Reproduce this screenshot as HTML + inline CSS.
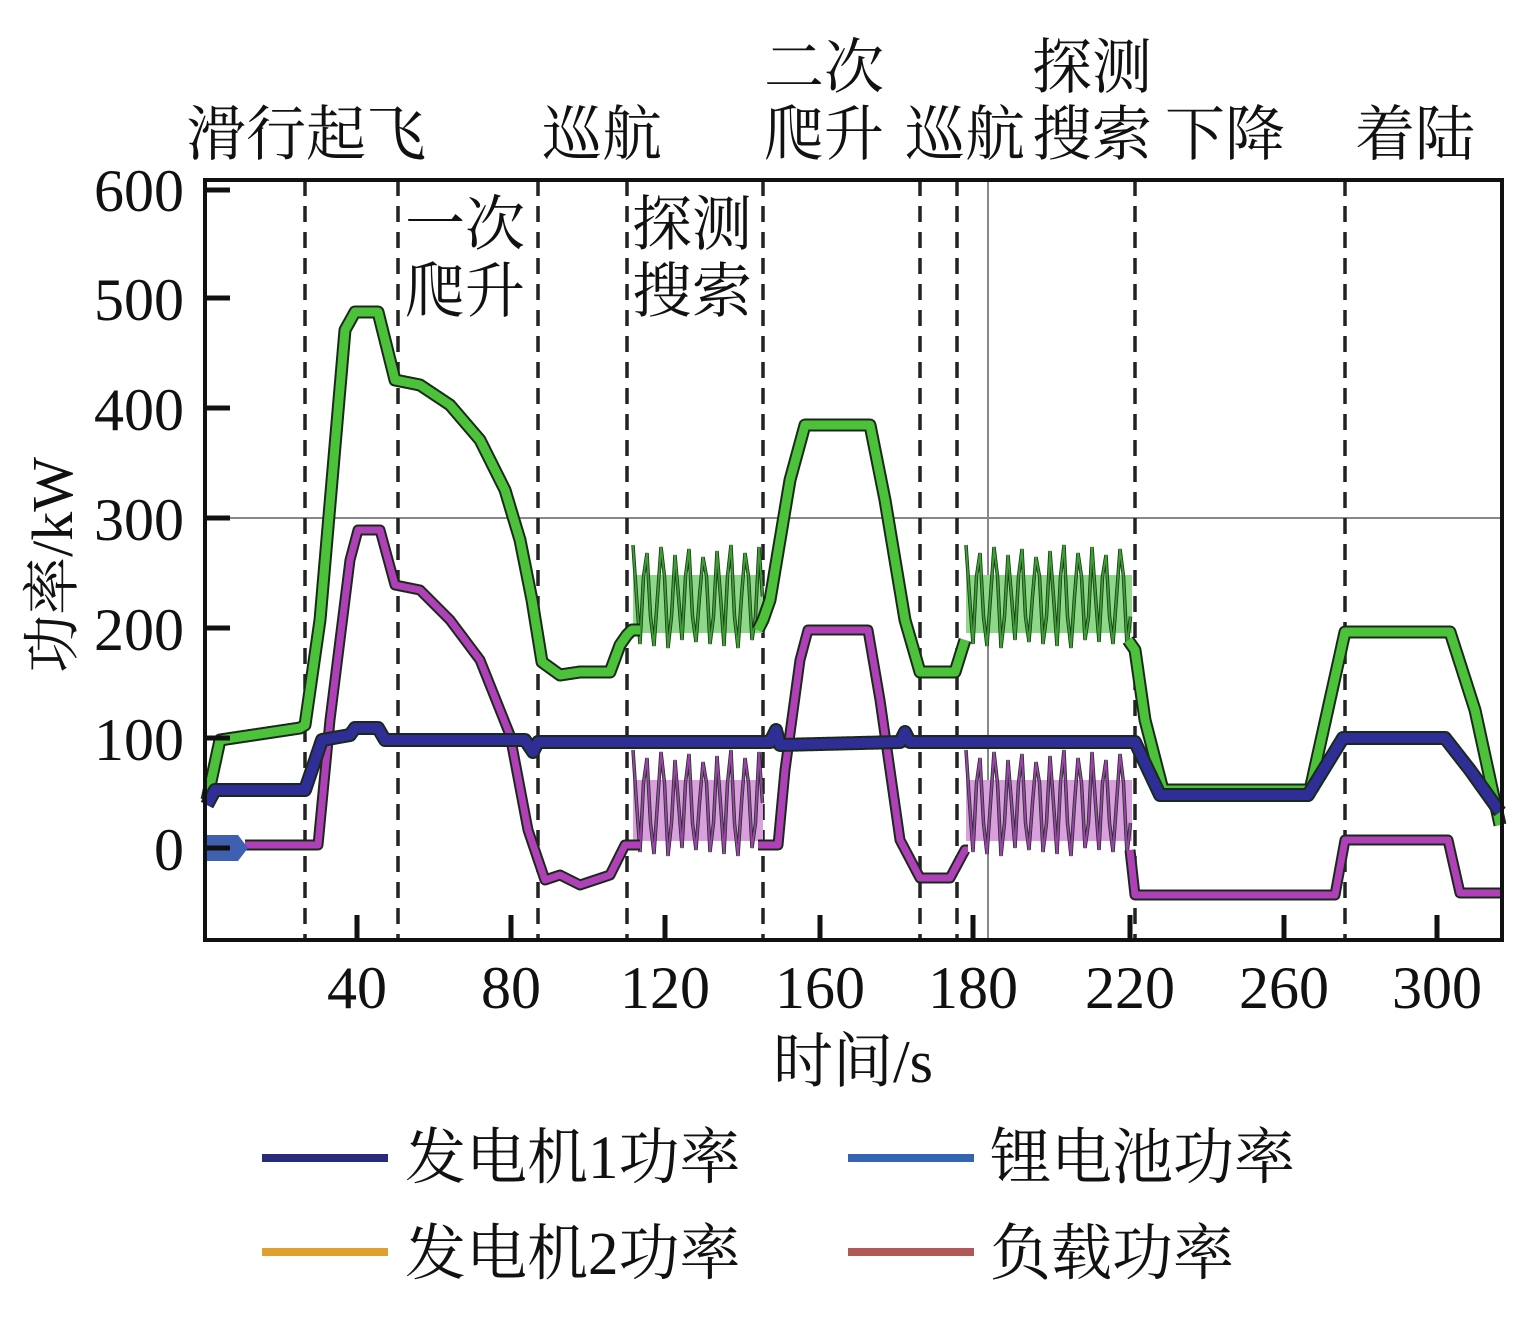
<!DOCTYPE html>
<html><head><meta charset="utf-8"><style>
html,body{margin:0;padding:0;background:#fff;}
svg{display:block;}
text{font-family:"Liberation Serif","Noto Serif CJK SC","Noto Sans CJK SC",serif;fill:#111;}
</style></head><body>
<svg id="s" width="1524" height="1322" viewBox="0 0 1524 1322" xmlns="http://www.w3.org/2000/svg">
<g font-size="60">
<text x="186" y="155">滑行起飞</text>
<text x="542" y="155">巡航</text>
<text x="764" y="88">二次</text>
<text x="764" y="155">爬升</text>
<text x="905" y="155">巡航</text>
<text x="1032" y="88">探测</text>
<text x="1032" y="155">搜索</text>
<text x="1165" y="155">下降</text>
<text x="1355" y="155">着陆</text>
<text x="405" y="245">一次</text>
<text x="405" y="312">爬升</text>
<text x="632" y="245">探测</text>
<text x="632" y="312">搜索</text>
</g>
<g stroke="#888" stroke-width="2">
<line x1="205" y1="518" x2="1502" y2="518"/>
<line x1="988" y1="180" x2="988" y2="940"/>
</g>
<g stroke="#222" stroke-width="3.5" stroke-dasharray="16,10">
<line x1="305" y1="180" x2="305" y2="940"/><line x1="398" y1="180" x2="398" y2="940"/>
<line x1="538" y1="180" x2="538" y2="940"/><line x1="627" y1="180" x2="627" y2="940"/>
<line x1="763" y1="180" x2="763" y2="940"/><line x1="920" y1="180" x2="920" y2="940"/>
<line x1="957" y1="180" x2="957" y2="940"/><line x1="1135" y1="180" x2="1135" y2="940"/>
<line x1="1345" y1="180" x2="1345" y2="940"/>
</g>
<g id="series"></g>
<polygon points="207,835 238,835 248,848 238,861 207,861" fill="#3f5fb0"/>
<rect x="205" y="180" width="1297" height="760" fill="none" stroke="#111" stroke-width="4"/>
<g stroke="#111" stroke-width="5">
<line x1="205" y1="190" x2="230" y2="190"/><line x1="205" y1="298" x2="230" y2="298"/>
<line x1="205" y1="408" x2="230" y2="408"/><line x1="205" y1="518" x2="230" y2="518"/>
<line x1="205" y1="628" x2="230" y2="628"/><line x1="205" y1="738" x2="230" y2="738"/>
<line x1="205" y1="848" x2="230" y2="848"/>
<line x1="357" y1="940" x2="357" y2="915"/><line x1="511" y1="940" x2="511" y2="915"/>
<line x1="665" y1="940" x2="665" y2="915"/><line x1="820" y1="940" x2="820" y2="915"/>
<line x1="973" y1="940" x2="973" y2="915"/><line x1="1130" y1="940" x2="1130" y2="915"/>
<line x1="1284" y1="940" x2="1284" y2="915"/><line x1="1437" y1="940" x2="1437" y2="915"/>
</g>
<g font-size="60" text-anchor="end">
<text x="184" y="211">600</text><text x="184" y="320">500</text><text x="184" y="430">400</text>
<text x="184" y="540">300</text><text x="184" y="650">200</text><text x="184" y="760">100</text>
<text x="184" y="870">0</text>
</g>
<g font-size="60" text-anchor="middle">
<text x="357" y="1008">40</text><text x="511" y="1008">80</text><text x="665" y="1008">120</text>
<text x="820" y="1008">160</text><text x="973" y="1008">180</text><text x="1130" y="1008">220</text>
<text x="1284" y="1008">260</text><text x="1437" y="1008">300</text>
<text x="853" y="1082">时间/s</text>
</g>
<text font-size="58" text-anchor="middle" transform="translate(72,565) rotate(-90)">功率/kW</text>
<g stroke-width="8">
<line x1="262" y1="1158" x2="388" y2="1158" stroke="#2a2a7a"/>
<line x1="848" y1="1158" x2="974" y2="1158" stroke="#3565b0"/>
<line x1="262" y1="1252" x2="388" y2="1252" stroke="#e0a030"/>
<line x1="848" y1="1252" x2="974" y2="1252" stroke="#b05858"/>
</g>
<g font-size="61">
<text x="405" y="1178">发电机1功率</text>
<text x="990" y="1178">锂电池功率</text>
<text x="405" y="1274">发电机2功率</text>
<text x="990" y="1274">负载功率</text>
</g>
</svg>
<script>
function interp(pts,x){for(let i=0;i<pts.length-1;i++){if(x>=pts[i][0]&&x<=pts[i+1][0]){const t=(x-pts[i][0])/((pts[i+1][0]-pts[i][0])||1);return pts[i][1]+t*(pts[i+1][1]-pts[i][1]);}}return pts[pts.length-1][1];}
function build(pts){let d=[];for(let x=pts[0][0];x<=pts[pts.length-1][0];x+=1){d.push(x+","+interp(pts,x).toFixed(1));}return d.join(" ");}
const g=document.getElementById("series");
function add(pts,col,w){const p=build(pts);g.insertAdjacentHTML("beforeend",`<polyline points="${p}" fill="none" stroke="#1a2a1a" stroke-width="${w+4}" stroke-linejoin="round"/><polyline points="${p}" fill="none" stroke="${col}" stroke-width="${w}" stroke-linejoin="round"/>`);}
function osc(x0,x1,top,bot,light,col){
  g.insertAdjacentHTML("beforeend",`<rect x="${x0}" y="${top+30}" width="${x1-x0}" height="${bot-top-45}" fill="${light}"/>`);
  let d=[];let k=0;for(let x=x0;x<=x1;x+=3.5){const ph=k%4;let y=(ph==0)?top+(k%7)*2:(ph==2)?bot-(k%5)*2:(top+bot)/2+((k%3)-1)*20;d.push(x.toFixed(1)+","+y);k++;}
  const p=d.join(" ");
  g.insertAdjacentHTML("beforeend",`<polyline points="${p}" fill="none" stroke="#1f3a1f" stroke-width="3.5"/><polyline points="${p}" fill="none" stroke="${col}" stroke-width="1.8"/>`);
}
const green=[[207,800],[220,740],[300,728],[305,725],[320,620],[345,330],[355,312],[378,312],[395,380],[420,385],[450,405],[480,440],[505,490],[520,540],[532,600],[542,662],[560,675],[580,672],[610,672],[620,645],[627,635],[632,630],[640,630]];
const green2=[[758,630],[763,620],[770,600],[790,480],[805,425],[870,425],[885,500],[905,620],[920,672],[955,672],[965,640]];
const green3=[[1128,640],[1135,650],[1145,720],[1163,790],[1310,790],[1345,632],[1450,632],[1475,710],[1500,825]];
const navy=[[207,805],[215,790],[305,790],[322,740],[350,735],[355,728],[378,728],[385,740],[525,740],[533,752],[538,742],[770,742],[776,730],[780,745],[900,742],[905,732],[910,742],[1135,742],[1160,795],[1308,795],[1343,738],[1445,738],[1470,770],[1500,812]];
const mag=[[245,845],[318,845],[330,720],[350,560],[358,530],[380,530],[395,585],[420,590],[450,620],[480,660],[510,735],[528,830],[545,880],[560,875],[580,885],[610,875],[625,845],[640,845]];
const mag2=[[758,845],[778,845],[785,770],[800,660],[808,630],[868,630],[880,700],[900,840],[920,878],[950,878],[965,850],[968,850]];
const mag3=[[1130,850],[1135,895],[1335,895],[1345,840],[1448,840],[1460,893],[1500,893]];
osc(633,763,545,648,"#8fd88a","#3aa030");
osc(966,1132,545,648,"#8fd88a","#3aa030");
osc(633,763,750,856,"#d9a0dd","#a040b0");
osc(966,1132,750,856,"#d9a0dd","#a040b0");
add(green,"#4cc23a",9);add(green2,"#4cc23a",9);add(green3,"#4cc23a",9);
add(mag,"#b040b8",7);add(mag2,"#b040b8",7);add(mag3,"#b040b8",7);
add(navy,"#2e2e96",10);
</script>
</body></html>
